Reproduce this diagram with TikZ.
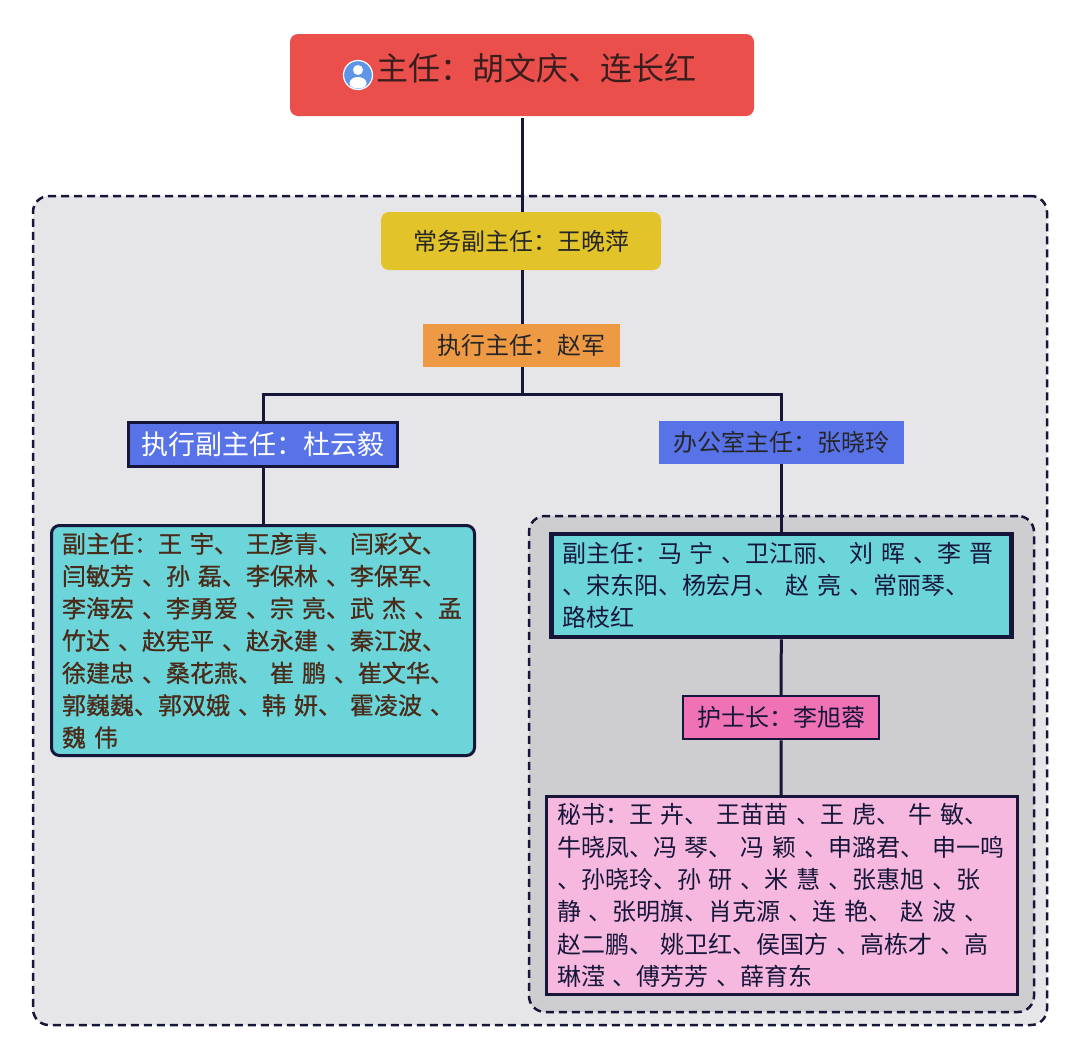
\documentclass[tikz,border=0pt]{standalone}
\usepackage{fontspec}
\setmainfont[WordSpace=1]{Noto Sans CJK SC}
\newfontfamily\cjkcu[FakeBold=0.8,WordSpace=1]{Noto Sans CJK SC}
\newcommand{\mh}{^^^^ff1a}
\definecolor{xian}{HTML}{16163A}
\definecolor{hong}{HTML}{EA4F4C}
\definecolor{huang}{HTML}{E2C42A}
\definecolor{cheng}{HTML}{EE9A45}
\definecolor{lan}{HTML}{5872E8}
\definecolor{qing}{HTML}{6CD5D9}
\definecolor{fen}{HTML}{EE72B4}
\definecolor{qianfen}{HTML}{F6B8DE}
\definecolor{tubiao}{HTML}{5F95E6}
\definecolor{waidi}{HTML}{E6E6E9}
\definecolor{neidi}{HTML}{CECED0}
\definecolor{zong}{HTML}{4A2A18}
\definecolor{shenhong}{HTML}{3A1E1E}
\begin{document}
\begin{tikzpicture}[x=1pt, y=-1pt,
        panel/.style={draw=xian, line width=2.5pt, dash pattern=on 8pt off 5pt, rounded corners=16pt},
        box/.style={inner sep=0pt, text=black!85, font=\fontsize{24}{32.3}\selectfont},
        namelist/.style={box, align=left},
        link/.style={xian, line width=3pt}]
    \useasboundingbox (0, 0) rectangle (1080, 1058);
    % dashed groups
    \node[panel, fill=waidi, minimum width=1014pt, minimum height=829pt] (waikuang) at (540, 610.5) {};
    \node[panel, fill=neidi, minimum width=505pt, minimum height=496pt] (neikuang) at (781.5, 764) {};
    % top of the chart
    \node[box, fill=hong, rounded corners=8pt, minimum width=464pt, minimum height=82pt] (zhuren) at (522, 75) {};
    \node[box, font=\fontsize{32}{36}\selectfont, text=shenhong] (zhurentext) at (536, 68) {主任\mh 胡文庆、连长红};
    \node[box, fill=huang, rounded corners=8pt, minimum width=280pt, minimum height=58pt] (changwu) at (521, 241) {常务副主任\mh 王晚萍};
    \node[box, fill=cheng, minimum width=197pt, minimum height=43pt] (zhixing) at (521.5, 345.5) {执行主任\mh 赵军};
    \coordinate (fenzhi) at (522, 394);
    % two branches
    \node[box, fill=lan, draw=xian, line width=3pt, text=white, font=\fontsize{27}{32}\selectfont, minimum width=269pt, minimum height=44pt] (fuzhuren) at (263, 444.5) {执行副主任\mh 杜云毅};
    \node[box, fill=lan, minimum width=245pt, minimum height=43pt] (bangongshi) at (781.5, 442.5) {办公室主任\mh 张晓玲};
    \node[namelist, fill=qing, draw=xian, line width=3pt, rounded corners=8pt, text=zong, inner xsep=10.5pt, text width=402pt, minimum height=230pt, font=\cjkcu\fontsize{24}{32.3}\selectfont] (fuzhurenlist) at (263, 640.5) {副主任\mh 王 宇、 王彦青、 闫彩文、\\
        闫敏芳 、孙 磊、李保林 、李保军、\\
        李海宏 、李勇爱 、宗 亮、武 杰 、孟\\
        竹达 、赵宪平 、赵永建 、秦江波、\\
        徐建忠 、桑花燕、 崔 鹏 、崔文华、\\
        郭巍巍、郭双娥 、韩 妍、 霍凌波 、\\
        魏 伟};
    \node[namelist, fill=qing, draw=xian, line width=4.5pt, text=xian, inner xsep=10.5pt, text width=439pt, minimum height=103pt] (bangonglist) at (781.5, 585.5) {副主任\mh 马 宁 、卫江丽、 刘 晖 、李 晋\\
        、宋东阳、杨宏月、 赵 亮 、常丽琴、\\
        路枝红};
    \node[box, fill=fen, draw=xian, line width=2.5pt, text=xian, minimum width=196pt, minimum height=43pt] (hushi) at (781, 717.5) {护士长\mh 李旭蓉};
    \node[namelist, fill=qianfen, draw=xian, line width=3pt, text=xian, inner xsep=11pt, text width=449pt, minimum height=198pt] (mishu) at (781.5, 895.5) {秘书\mh 王 卉、 王苗苗 、王 虎、 牛 敏、\\
        牛晓凤、冯 琴、 冯 颖 、申潞君、 申一鸣\\
        、孙晓玲、孙 研 、米 慧 、张惠旭 、张\\
        静 、张明旗、肖克源 、连 艳、 赵 波 、\\
        赵二鹏、 姚卫红、侯国方 、高栋才 、高\\
        琳滢 、傅芳芳 、薛育东};
    % connectors
    \draw[link, shorten <=2pt] (zhuren.south -| fenzhi) -- (changwu.north -| fenzhi);
    \draw[link] (changwu.south -| fenzhi) -- (zhixing.north -| fenzhi);
    \draw[link] (zhixing.south -| fenzhi) -- (fenzhi);
    \draw[link] (fenzhi) -| (fuzhuren);
    \draw[link] (fenzhi) -| (bangongshi);
    \draw[link] (fuzhuren) -- (fuzhurenlist);
    \draw[link] (bangongshi) -- (bangonglist);
    \draw[link] (bangonglist) -- (hushi);
    \draw[link] (hushi) -- (mishu);
    % person icon
    \fill[tubiao, draw=white, line width=1.2pt] (358, 75) circle (14.5);
    \begin{scope}
        \clip (358, 75) circle (13.5);
        \fill[white] (358, 70) circle (5);
        \fill[white] (358, 83) ellipse (8.5 and 6);
    \end{scope}
\end{tikzpicture}
\end{document}
